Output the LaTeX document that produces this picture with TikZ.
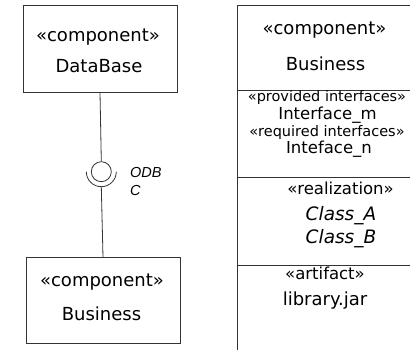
\documentclass[tikz,border=0pt]{standalone}
\usepackage{fontspec}
\setmainfont{DejaVu Sans}
\newfontfamily\labfont{Liberation Sans}
\begin{document}
\begin{tikzpicture}[x=1pt,y=1pt,
  box/.style={draw=black!80, line width=0.9pt, inner sep=0pt, rectangle},
  conn/.style={draw=black!80, line width=0.8pt},
  big/.style={anchor=base, inner sep=0pt, font=\fontsize{18}{20}\selectfont},
  bigit/.style={anchor=base, inner sep=0pt, font=\fontsize{18.5}{20}\selectfont\itshape},
  small/.style={anchor=base, inner sep=0pt, font=\fontsize{14.5}{17}\selectfont},
  mid/.style={anchor=base, inner sep=0pt, font=\fontsize{16.5}{18}\selectfont},
  lab/.style={anchor=north west, inner sep=0pt, align=left, font=\fontsize{14.5}{18.4}\selectfont\labfont\itshape}]
\useasboundingbox (0,0) rectangle (410,349);
\begin{scope}
\clip (0,0) rectangle (410,349);
% left top component
\node[box, minimum width=154pt, minimum height=87pt] (db) at (100,300.5) {};
\node[big] (dbst) at (98,308) {«component»};
\node[big] (dbname) at (99,276.3) {DataBase};
% interface
\node[circle, draw=black!80, line width=0.8pt, minimum size=20pt, inner sep=0pt] (iface) at (101.3,177.3) {};
\draw[conn] (iface.center) ++(-15,0) arc[start angle=180, end angle=360, radius=15pt];
\coordinate (sock) at (101.3,162.3);
\node[lab] (odb) at (130,182.3) {ODB\\C};
% left bottom component
\node[box, minimum width=154pt, minimum height=85.3pt] (bus) at (103,48.65) {};
\node[big] (busst) at (102,62.3) {«component»};
\node[big] (busname) at (101.5,28.3) {Business};
\draw[conn] (db.south) -- (iface.north);
\draw[conn] (sock) -- (bus.north);
% right component
\node[box, minimum width=177pt, minimum height=348.3pt] (comp) at (325.5,169.15) {};
\draw[conn] (comp.west |- 0,258.3) -- (comp.east |- 0,258.3);
\draw[conn] (comp.west |- 0,171.3) -- (comp.east |- 0,171.3);
\draw[conn] (comp.west |- 0,84) -- (comp.east |- 0,84);
\node[big] (cst) at (324.5,314) {«component»};
\node[big] (cname) at (325.5,278.3) {Business};
\node[small] (prov) at (327,247.5) {«provided interfaces»};
\node[mid] (ifm) at (327.5,230) {Interface\_m};
\node[small] (req) at (327,212.5) {«required interfaces»};
\node[mid] (ifn) at (329,196) {Inteface\_n};
\node[mid] (real) at (340.5,154.7) {«realization»};
\node[bigit] (ca) at (341,129) {Class\_A};
\node[bigit] (cb) at (341,105.7) {Class\_B};
\node[mid] (art) at (325,70) {«artifact»};
\node[big] (lib) at (325,44) {library.jar};
\end{scope}
\end{tikzpicture}
\end{document}
